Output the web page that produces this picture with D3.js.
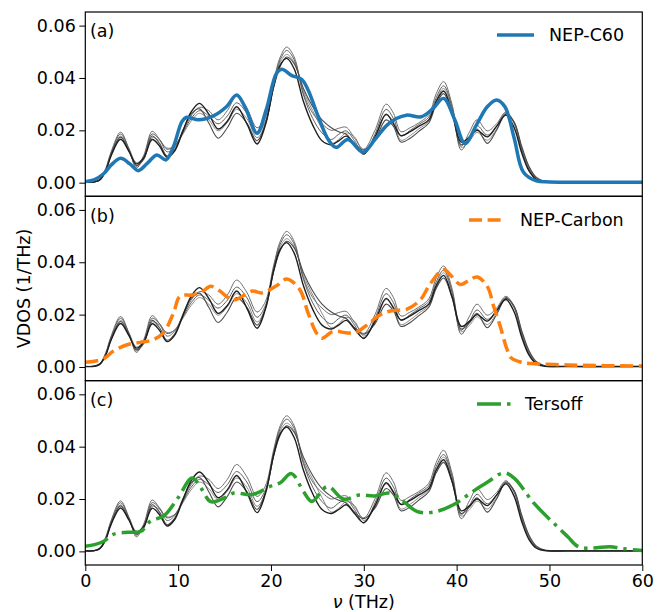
<!DOCTYPE html>
<html><head><meta charset="utf-8">
<script src="https://cdn.jsdelivr.net/npm/d3@7"></script>
<style>body{margin:0;background:#fff}svg{display:block}text{font-family:"DejaVu Sans",sans-serif}</style>
</head><body>
<script>
// ---- data ----
const grayFreq = [0,1,1.6,2.2,2.8,3.8,4.7,5.5,6.3,7.2,8.0,8.8,9.6,10.5,11.4,12.3,13.3,14.3,15.3,16.3,17.4,18.5,19.4,20.3,21.0,21.7,22.5,23.5,24.5,25.5,26.5,27.3,28.1,29.0,30.0,31.2,32.4,33.2,34.0,35.0,35.9,37.0,37.8,38.6,39.5,40.5,41.4,42.2,43.3,44.3,45.3,46.2,47.0,47.8,48.6,49.5,52,60];
const refBlack = [0.0002,0.0003,0.0012,0.0045,0.0105,0.0166,0.0120,0.0072,0.0095,0.0165,0.0140,0.0097,0.0120,0.0195,0.0270,0.0303,0.0262,0.0205,0.0235,0.0290,0.0225,0.0148,0.0220,0.0370,0.0450,0.0475,0.0435,0.0310,0.0220,0.0160,0.0145,0.0160,0.0178,0.0145,0.0110,0.0175,0.0262,0.0225,0.0180,0.0195,0.0215,0.0240,0.0310,0.0350,0.0270,0.0155,0.0175,0.0200,0.0175,0.0215,0.0258,0.0210,0.0115,0.0045,0.0012,0.0003,0.0002,0.0002];
const refGray1 = [0.0002,0.0004,0.0015,0.0055,0.0120,0.0193,0.0130,0.0062,0.0105,0.0196,0.0165,0.0118,0.0135,0.0195,0.0255,0.0288,0.0275,0.0240,0.0275,0.0332,0.0285,0.0210,0.0250,0.0390,0.0480,0.0518,0.0480,0.0340,0.0265,0.0225,0.0200,0.0208,0.0212,0.0170,0.0128,0.0200,0.0300,0.0265,0.0195,0.0210,0.0228,0.0260,0.0340,0.0386,0.0300,0.0140,0.0195,0.0240,0.0198,0.0225,0.0270,0.0230,0.0130,0.0055,0.0016,0.0004,0.0002,0.0002];
const refGray2 = [0.0002,0.0003,0.0012,0.0050,0.0115,0.0186,0.0128,0.0056,0.0100,0.0186,0.0165,0.0128,0.0140,0.0190,0.0245,0.0275,0.0255,0.0225,0.0255,0.0305,0.0265,0.0190,0.0235,0.0380,0.0470,0.0505,0.0470,0.0335,0.0245,0.0190,0.0165,0.0185,0.0198,0.0160,0.0108,0.0185,0.0280,0.0245,0.0178,0.0200,0.0222,0.0250,0.0325,0.0370,0.0290,0.0125,0.0175,0.0218,0.0182,0.0215,0.0266,0.0225,0.0125,0.0050,0.0014,0.0003,0.0002,0.0002];
const refGray3 = [0.0002,0.0003,0.0010,0.0045,0.0105,0.0178,0.0130,0.0077,0.0098,0.0172,0.0160,0.0132,0.0140,0.0185,0.0235,0.0265,0.0240,0.0198,0.0230,0.0280,0.0245,0.0172,0.0225,0.0370,0.0460,0.0490,0.0460,0.0350,0.0275,0.0205,0.0150,0.0165,0.0190,0.0175,0.0118,0.0170,0.0258,0.0230,0.0162,0.0180,0.0205,0.0235,0.0315,0.0360,0.0285,0.0135,0.0160,0.0192,0.0162,0.0205,0.0262,0.0230,0.0135,0.0060,0.0018,0.0004,0.0002,0.0002];
const refGray4 = [0.0002,0.0003,0.0011,0.0048,0.0110,0.0174,0.0122,0.0066,0.0090,0.0178,0.0150,0.0102,0.0125,0.0200,0.0262,0.0282,0.0228,0.0170,0.0210,0.0265,0.0228,0.0160,0.0225,0.0365,0.0445,0.0480,0.0455,0.0360,0.0290,0.0240,0.0210,0.0195,0.0185,0.0150,0.0125,0.0165,0.0240,0.0215,0.0155,0.0170,0.0195,0.0228,0.0300,0.0340,0.0265,0.0145,0.0170,0.0205,0.0150,0.0200,0.0262,0.0232,0.0140,0.0062,0.0020,0.0005,0.0002,0.0002];

const c60Freq = [0,1,2,2.8,3.8,4.8,5.7,6.7,7.7,8.7,9.5,10.4,10.9,12.2,13.8,15.2,16.3,17.2,18.5,19.5,20.6,21.2,22.2,23.3,24.0,25.1,26.2,27.0,28.3,29.9,31.2,32.5,33.5,34.6,36.2,37.5,38.6,39.8,40.9,42.2,43.3,44.3,45.2,46.2,47.2,48.6,50,55,60];
const c60Vdos = [0.0004,0.0012,0.0035,0.0068,0.0093,0.0072,0.0046,0.0075,0.0106,0.0087,0.0138,0.0233,0.0250,0.0240,0.0255,0.0290,0.0335,0.0290,0.0189,0.0280,0.0418,0.0433,0.0410,0.0395,0.0354,0.0252,0.0163,0.0135,0.0165,0.0116,0.0165,0.0220,0.0245,0.0258,0.0252,0.0285,0.0322,0.0240,0.0150,0.0225,0.0290,0.0316,0.0290,0.0170,0.0040,0.0007,0.0003,0.0002,0.0002];

const carbonFreq = [0,1,2,3,4.5,5.9,7.3,8.4,9.5,10.2,11.5,12.5,13.5,14.5,15.5,16.2,17,18,19,20.6,21.7,23.1,24.0,24.9,25.5,26.7,28.3,29.3,30.5,31.8,33,34.6,36.1,37.2,38.6,39.5,40.4,41.3,42.2,43.3,44,44.7,45.4,45.9,47,48,52,56,60];
const carbonVdos = [0.0018,0.0022,0.0032,0.0060,0.0085,0.0094,0.0104,0.0130,0.0206,0.0270,0.0275,0.0285,0.0308,0.0290,0.0262,0.0257,0.0272,0.0290,0.0283,0.0310,0.0336,0.0296,0.0206,0.0130,0.0110,0.0136,0.0130,0.0135,0.0165,0.0200,0.0215,0.0220,0.0257,0.0320,0.0372,0.0345,0.0315,0.0330,0.0344,0.0308,0.0230,0.0155,0.0070,0.0034,0.0018,0.0013,0.0008,0.0005,0.0004];

const tersoffFreq = [0,1,2,3,4.5,6,7,8.5,10,11.5,12.5,13.5,15,16,18,19.9,21,22.2,23.5,24.4,26.1,27.8,29.5,31.2,32.8,34.3,35.7,37.5,39.7,41.5,43.3,45.1,46.2,48.3,50.8,52,53,54,55.1,56.5,58,60];
const tersoffVdos = [0.0020,0.0026,0.0039,0.0065,0.0073,0.0077,0.0115,0.0137,0.0205,0.0280,0.0240,0.0190,0.0204,0.0223,0.0217,0.0248,0.0262,0.0297,0.0229,0.0191,0.0248,0.0200,0.0215,0.0212,0.0223,0.0190,0.0153,0.0150,0.0179,0.0223,0.0264,0.0300,0.0280,0.0185,0.0096,0.0055,0.0020,0.0012,0.0014,0.0018,0.0010,0.0003];

const panelLabels = ["(a)","(b)","(c)"];
const legendNames = ["NEP-C60","NEP-Carbon","Tersoff"];
const yTicks = [0,0.02,0.04,0.06];
const xTicks = [0,10,20,30,40,50,60];

// ---- layout ----
const W = 667, H = 612;
const left = 85.3, right = 642.3;
const panelTop = [12, 196.3, 380.7], panelH = 184.3;
const svg = d3.select("body").append("svg").attr("width", W).attr("height", H);
const x = d3.scaleLinear().domain([0,60]).range([left,right]);
const FS = 17.5;

const grayStyles = [
  {v: refGray3, c: "#8a8a8a", w: 1},
  {v: refGray1, c: "#6e6e6e", w: 1},
  {v: refGray2, c: "#5e5e5e", w: 1},
  {v: refGray4, c: "#4a4a4a", w: 1.1},
  {v: refBlack, c: "#1e1e1e", w: 1.4}
];
const colored = [
  {f: c60Freq, v: c60Vdos, c: "#1f77b4", dash: null},
  {f: carbonFreq, v: carbonVdos, c: "#ff7f0e", dash: "13,5.6"},
  {f: tersoffFreq, v: tersoffVdos, c: "#2ca02c", dash: "24,6,3.5,6"}
];
const legendPos = [
  {x0: 497, y: 35, tx: 549},
  {x0: 469, y: 220, tx: 520},
  {x0: 477, y: 404, tx: 525}
];
const labelBase = [37, 221.5, 406];

panelTop.forEach((top, i) => {
  const y = d3.scaleLinear().domain([-0.0052, 0.0652]).range([top+panelH, top]);
  const g = svg.append("g");
  const clipId = "clip"+i;
  svg.append("clipPath").attr("id", clipId).append("rect")
    .attr("x", left).attr("y", top).attr("width", right-left).attr("height", panelH);
  const line = d3.line().x(d => x(d[0])).y(d => y(d[1])).curve(d3.curveCatmullRom.alpha(0.5));
  const cg = g.append("g").attr("clip-path", `url(#${clipId})`);
  grayStyles.forEach(s => {
    cg.append("path").attr("d", line(grayFreq.map((f,k)=>[f, s.v[k]])))
      .attr("fill","none").attr("stroke", s.c).attr("stroke-width", s.w);
  });
  const cs = colored[i];
  cg.append("path").attr("d", line(cs.f.map((f,k)=>[f, cs.v[k]])))
    .attr("fill","none").attr("stroke", cs.c).attr("stroke-width", 3.5)
    .attr("stroke-dasharray", cs.dash).attr("stroke-linejoin","round");

  // y axis
  const ya = g.append("g").attr("transform", `translate(${left},0)`)
    .call(d3.axisLeft(y).tickValues(yTicks).tickFormat(d3.format(".2f")).tickSize(6).tickPadding(3.5));
  ya.select(".domain").remove();
  ya.selectAll("text").attr("font-size", FS).attr("fill","#000").attr("font-family","DejaVu Sans");
  ya.selectAll("line").attr("stroke","#000").attr("stroke-width",1);

  if (i === 2) {
    const xa = g.append("g").attr("transform", `translate(0,${top+panelH})`)
      .call(d3.axisBottom(x).tickValues(xTicks).tickFormat(d3.format("d")).tickSize(6).tickPadding(3.5));
    xa.select(".domain").remove();
    xa.selectAll("text").attr("font-size", FS).attr("fill","#000").attr("font-family","DejaVu Sans");
    xa.selectAll("line").attr("stroke","#000").attr("stroke-width",1);
  }
  // frame
  g.append("rect").attr("x", left).attr("y", top).attr("width", right-left).attr("height", panelH)
    .attr("fill","none").attr("stroke","#000").attr("stroke-width",1.2);
  // panel label
  g.append("text").attr("x", 90).attr("y", labelBase[i]).attr("font-size", FS).text(panelLabels[i]);
  // legend
  const lp = legendPos[i];
  g.append("line").attr("x1", lp.x0).attr("x2", lp.x0+37).attr("y1", lp.y).attr("y2", lp.y)
    .attr("stroke", cs.c).attr("stroke-width", 3.5).attr("stroke-dasharray", cs.dash);
  g.append("text").attr("x", lp.tx).attr("y", lp.y+6.3).attr("font-size", FS).text(legendNames[i]);
});

// axis titles
svg.append("text").attr("transform", `translate(30,288.5) rotate(-90)`)
  .attr("text-anchor","middle").attr("font-size", FS).text("VDOS (1/THz)");
const xl = svg.append("text").attr("x", (left+right)/2).attr("y", 608)
  .attr("text-anchor","middle").attr("font-size", FS);
xl.append("tspan").attr("font-style","italic").text("ν");
xl.append("tspan").text(" (THz)");
</script>
</body></html>
